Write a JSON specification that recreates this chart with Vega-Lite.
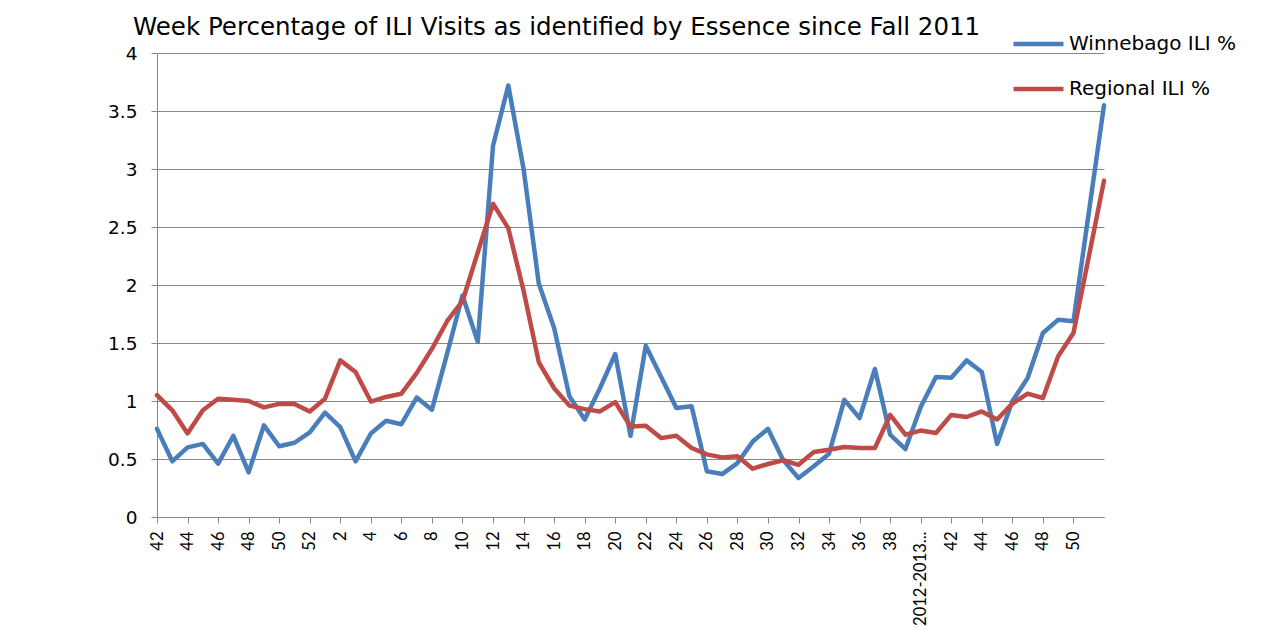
{
  "$schema": "https://vega.github.io/schema/vega-lite/v6.json",
  "width": 947,
  "height": 464,
  "autosize": {"type": "none"},
  "padding": {"left": 157, "top": 53, "right": 170, "bottom": 113},
  "background": "white",
  "title": {
    "text": "Week Percentage of ILI Visits as identified by Essence since Fall 2011",
    "anchor": "start",
    "frame": "group",
    "dx": -24,
    "dy": 24,
    "offset": 18,
    "font": "DejaVu Sans",
    "fontSize": 24.5,
    "fontWeight": "normal",
    "color": "#000000"
  },
  "data": {
    "values": [
      {"week": "2011-42", "Winnebago ILI %": 0.76, "Regional ILI %": 1.05},
      {"week": "2011-43", "Winnebago ILI %": 0.48, "Regional ILI %": 0.92},
      {"week": "2011-44", "Winnebago ILI %": 0.60, "Regional ILI %": 0.72},
      {"week": "2011-45", "Winnebago ILI %": 0.63, "Regional ILI %": 0.92},
      {"week": "2011-46", "Winnebago ILI %": 0.46, "Regional ILI %": 1.02},
      {"week": "2011-47", "Winnebago ILI %": 0.70, "Regional ILI %": 1.01},
      {"week": "2011-48", "Winnebago ILI %": 0.385, "Regional ILI %": 1.00},
      {"week": "2011-49", "Winnebago ILI %": 0.79, "Regional ILI %": 0.945},
      {"week": "2011-50", "Winnebago ILI %": 0.61, "Regional ILI %": 0.975},
      {"week": "2011-51", "Winnebago ILI %": 0.64, "Regional ILI %": 0.975},
      {"week": "2011-52", "Winnebago ILI %": 0.73, "Regional ILI %": 0.91},
      {"week": "2012-1", "Winnebago ILI %": 0.90, "Regional ILI %": 1.02},
      {"week": "2012-2", "Winnebago ILI %": 0.775, "Regional ILI %": 1.35},
      {"week": "2012-3", "Winnebago ILI %": 0.48, "Regional ILI %": 1.25},
      {"week": "2012-4", "Winnebago ILI %": 0.72, "Regional ILI %": 0.995},
      {"week": "2012-5", "Winnebago ILI %": 0.83, "Regional ILI %": 1.035},
      {"week": "2012-6", "Winnebago ILI %": 0.80, "Regional ILI %": 1.063},
      {"week": "2012-7", "Winnebago ILI %": 1.03, "Regional ILI %": 1.24},
      {"week": "2012-8", "Winnebago ILI %": 0.925, "Regional ILI %": 1.45},
      {"week": "2012-9", "Winnebago ILI %": 1.41, "Regional ILI %": 1.69},
      {"week": "2012-10", "Winnebago ILI %": 1.91, "Regional ILI %": 1.86},
      {"week": "2012-11", "Winnebago ILI %": 1.51, "Regional ILI %": 2.28},
      {"week": "2012-12", "Winnebago ILI %": 3.20, "Regional ILI %": 2.70},
      {"week": "2012-13", "Winnebago ILI %": 3.72, "Regional ILI %": 2.49},
      {"week": "2012-14", "Winnebago ILI %": 3.00, "Regional ILI %": 1.95},
      {"week": "2012-15", "Winnebago ILI %": 2.01, "Regional ILI %": 1.333},
      {"week": "2012-16", "Winnebago ILI %": 1.63, "Regional ILI %": 1.11},
      {"week": "2012-17", "Winnebago ILI %": 1.04, "Regional ILI %": 0.96},
      {"week": "2012-18", "Winnebago ILI %": 0.84, "Regional ILI %": 0.93},
      {"week": "2012-19", "Winnebago ILI %": 1.11, "Regional ILI %": 0.91},
      {"week": "2012-20", "Winnebago ILI %": 1.405, "Regional ILI %": 0.99},
      {"week": "2012-21", "Winnebago ILI %": 0.70, "Regional ILI %": 0.78},
      {"week": "2012-22", "Winnebago ILI %": 1.477, "Regional ILI %": 0.787},
      {"week": "2012-23", "Winnebago ILI %": 1.21, "Regional ILI %": 0.68},
      {"week": "2012-24", "Winnebago ILI %": 0.94, "Regional ILI %": 0.70},
      {"week": "2012-25", "Winnebago ILI %": 0.954, "Regional ILI %": 0.595},
      {"week": "2012-26", "Winnebago ILI %": 0.394, "Regional ILI %": 0.54},
      {"week": "2012-27", "Winnebago ILI %": 0.37, "Regional ILI %": 0.514},
      {"week": "2012-28", "Winnebago ILI %": 0.465, "Regional ILI %": 0.523},
      {"week": "2012-29", "Winnebago ILI %": 0.65, "Regional ILI %": 0.417},
      {"week": "2012-30", "Winnebago ILI %": 0.76, "Regional ILI %": 0.457},
      {"week": "2012-31", "Winnebago ILI %": 0.49, "Regional ILI %": 0.489},
      {"week": "2012-32", "Winnebago ILI %": 0.336, "Regional ILI %": 0.45},
      {"week": "2012-33", "Winnebago ILI %": 0.437, "Regional ILI %": 0.56},
      {"week": "2012-34", "Winnebago ILI %": 0.546, "Regional ILI %": 0.58},
      {"week": "2012-35", "Winnebago ILI %": 1.01, "Regional ILI %": 0.603},
      {"week": "2012-36", "Winnebago ILI %": 0.853, "Regional ILI %": 0.595},
      {"week": "2012-37", "Winnebago ILI %": 1.276, "Regional ILI %": 0.595},
      {"week": "2012-38", "Winnebago ILI %": 0.71, "Regional ILI %": 0.88},
      {"week": "2012-39", "Winnebago ILI %": 0.586, "Regional ILI %": 0.71},
      {"week": "2012-40", "Winnebago ILI %": 0.948, "Regional ILI %": 0.745},
      {"week": "2012-41", "Winnebago ILI %": 1.207, "Regional ILI %": 0.724},
      {"week": "2012-42", "Winnebago ILI %": 1.20, "Regional ILI %": 0.88},
      {"week": "2012-43", "Winnebago ILI %": 1.35, "Regional ILI %": 0.862},
      {"week": "2012-44", "Winnebago ILI %": 1.25, "Regional ILI %": 0.91},
      {"week": "2012-45", "Winnebago ILI %": 0.63, "Regional ILI %": 0.84},
      {"week": "2012-46", "Winnebago ILI %": 0.997, "Regional ILI %": 0.977},
      {"week": "2012-47", "Winnebago ILI %": 1.198, "Regional ILI %": 1.063},
      {"week": "2012-48", "Winnebago ILI %": 1.586, "Regional ILI %": 1.026},
      {"week": "2012-49", "Winnebago ILI %": 1.70, "Regional ILI %": 1.385},
      {"week": "2012-50", "Winnebago ILI %": 1.687, "Regional ILI %": 1.586},
      {"week": "2012-51", "Winnebago ILI %": 2.62, "Regional ILI %": 2.24},
      {"week": "2012-52", "Winnebago ILI %": 3.55, "Regional ILI %": 2.90}
    ]
  },
  "transform": [
    {"fold": ["Winnebago ILI %", "Regional ILI %"], "as": ["series", "pct"]}
  ],
  "mark": {"type": "line", "strokeWidth": 4.5, "strokeJoin": "round", "strokeCap": "round"},
  "encoding": {
    "x": {
      "field": "week",
      "type": "ordinal",
      "sort": null,
      "scale": {"type": "point", "padding": 0},
      "axis": {
        "title": null,
        "values": ["2011-42", "2011-44", "2011-46", "2011-48", "2011-50", "2011-52", "2012-2", "2012-4", "2012-6", "2012-8", "2012-10", "2012-12", "2012-14", "2012-16", "2012-18", "2012-20", "2012-22", "2012-24", "2012-26", "2012-28", "2012-30", "2012-32", "2012-34", "2012-36", "2012-38", "2012-40", "2012-42", "2012-44", "2012-46", "2012-48", "2012-50"],
        "labelExpr": "datum.value == '2012-40' ? '2012-2013...' : split(datum.value, '-')[1]",
        "labelAngle": -90,
        "labelFont": "Lato",
        "labelFontSize": 16.5,
        "labelColor": "#000000",
        "labelPadding": 8,
        "tickSize": 6,
        "tickColor": "#868686",
        "domainColor": "#868686",
        "grid": false
      }
    },
    "y": {
      "field": "pct",
      "type": "quantitative",
      "scale": {"domain": [0, 4], "nice": false},
      "axis": {
        "title": null,
        "values": [0, 0.5, 1, 1.5, 2, 2.5, 3, 3.5, 4],
        "format": ".1~f",
        "labelFont": "DejaVu Sans",
        "labelFontSize": 18.5,
        "labelColor": "#000000",
        "labelPadding": 14,
        "tickSize": 6,
        "tickColor": "#868686",
        "domainColor": "#868686",
        "grid": true,
        "gridColor": "#868686",
        "gridWidth": 1
      }
    },
    "color": {
      "field": "series",
      "type": "nominal",
      "scale": {"domain": ["Winnebago ILI %", "Regional ILI %"], "range": ["#4A7EBB", "#BE4B48"]},
      "legend": {
        "title": null,
        "orient": "none",
        "legendX": 854,
        "legendY": -19,
        "padding": 0,
        "symbolType": "stroke",
        "symbolSize": 2500,
        "symbolStrokeWidth": 4.5,
        "clipHeight": 20,
        "rowPadding": 25,
        "labelFont": "DejaVu Sans",
        "labelFontSize": 20,
        "labelLimit": 300,
        "labelColor": "#000000",
        "labelOffset": 3
      }
    }
  },
  "config": {"view": {"stroke": null}}
}
